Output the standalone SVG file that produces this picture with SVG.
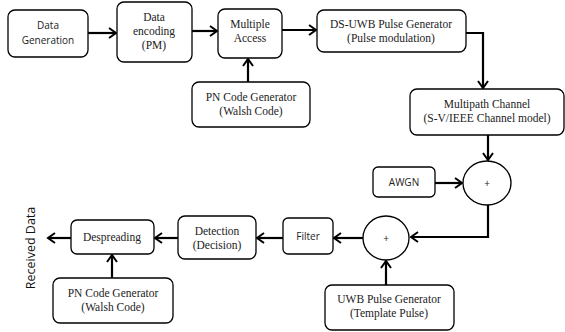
<svg xmlns="http://www.w3.org/2000/svg" width="565" height="332" viewBox="0 0 565 332">
<defs>
<marker id="arr" viewBox="0 0 12 12" refX="10" refY="6" markerWidth="12" markerHeight="12" orient="auto" markerUnits="userSpaceOnUse">
<path d="M3,1 L10,6 L3,11" fill="none" stroke="#000" stroke-width="2"/>
</marker>
<style>
.box{fill:#fff;stroke:#000;stroke-width:1.3}
.sum{fill:#fff;stroke:#000;stroke-width:1.3}
.c{fill:none;stroke:#000;stroke-width:2.2;marker-end:url(#arr)}
.s{font-family:"Liberation Serif","Times New Roman",serif;font-size:11.5px;text-anchor:middle;fill:#222}
.a{font-family:"Open Sans","Liberation Sans",sans-serif;font-size:10px;text-anchor:middle;fill:#222}
</style>
</defs>
<rect width="565" height="332" fill="#fff"/>
<g id="connectors">
<path class="c" d="M88,33 H116"/>
<path class="c" d="M192,31 H217"/>
<path class="c" d="M282,30 H316"/>
<path class="c" d="M248,82 V59"/>
<path class="c" d="M466,33 H483 V88"/>
<path class="c" d="M488,135 V160"/>
<path class="c" d="M435,183 H462"/>
<path class="c" d="M488,205 V237 H411"/>
<path class="c" d="M363,238 H334"/>
<path class="c" d="M386,285 V261"/>
<path class="c" d="M283,238 H257"/>
<path class="c" d="M178,238 H155"/>
<path class="c" d="M71,238 H48"/>
<path class="c" d="M112,278 V255"/>
</g>
<g id="data-generation">
<rect class="box" x="8" y="10" width="80" height="47" rx="7"/>
<text class="a" x="48" y="29">Data</text>
<text class="a" x="48" y="44">Generation</text>
</g>
<g id="data-encoding">
<rect class="box" x="117" y="2" width="75" height="60" rx="7"/>
<text class="s" x="154" y="21">Data</text>
<text class="s" x="154" y="35">encoding</text>
<text class="s" x="154" y="49">(PM)</text>
</g>
<g id="multiple-access">
<rect class="box" x="218" y="9" width="64" height="49" rx="7"/>
<text class="s" x="250" y="28">Multiple</text>
<text class="s" x="250" y="42">Access</text>
</g>
<g id="ds-uwb">
<rect class="box" x="317" y="10" width="149" height="42" rx="7"/>
<text class="s" x="391" y="28">DS-UWB Pulse Generator</text>
<text class="s" x="391" y="42">(Pulse modulation)</text>
</g>
<g id="pn-code-1">
<rect class="box" x="192" y="82" width="118" height="45" rx="7"/>
<text class="s" x="251" y="101">PN Code Generator</text>
<text class="s" x="251" y="115">(Walsh Code)</text>
</g>
<g id="multipath">
<rect class="box" x="410" y="89" width="154" height="46" rx="7"/>
<text class="s" x="487" y="108">Multipath Channel</text>
<text class="s" x="487" y="122">(S-V/IEEE Channel model)</text>
</g>
<g id="awgn">
<rect class="box" x="373" y="167" width="62" height="30" rx="5"/>
<text class="a" x="404" y="186">AWGN</text>
</g>
<g id="adder-1">
<ellipse class="sum" cx="487" cy="183" rx="24" ry="22"/>
<text class="a" x="487" y="187">+</text>
</g>
<g id="adder-2">
<ellipse class="sum" cx="386" cy="238" rx="23" ry="22"/>
<text class="a" x="386" y="242">+</text>
</g>
<g id="filter">
<rect class="box" x="283" y="218" width="50" height="36" rx="5"/>
<text class="a" x="308" y="240">Filter</text>
</g>
<g id="uwb-pulse">
<rect class="box" x="325" y="285" width="129" height="45" rx="7"/>
<text class="s" x="389" y="303">UWB Pulse Generator</text>
<text class="s" x="389" y="317">(Template Pulse)</text>
</g>
<g id="detection">
<rect class="box" x="178" y="216" width="78" height="43" rx="7"/>
<text class="s" x="217" y="235">Detection</text>
<text class="s" x="217" y="249">(Decision)</text>
</g>
<g id="despreading">
<rect class="box" x="71" y="220" width="83" height="34" rx="6"/>
<text class="s" x="112" y="241">Despreading</text>
</g>
<g id="pn-code-2">
<rect class="box" x="53" y="278" width="120" height="45" rx="7"/>
<text class="s" x="113" y="297">PN Code Generator</text>
<text class="s" x="113" y="311">(Walsh Code)</text>
</g>
<g id="received-data">
<text x="35" y="248" transform="rotate(-90 35 248)" style="font-family:'Open Sans','Liberation Sans',sans-serif;font-size:12.5px;text-anchor:middle;fill:#111">Received Data</text>
</g>
</svg>
